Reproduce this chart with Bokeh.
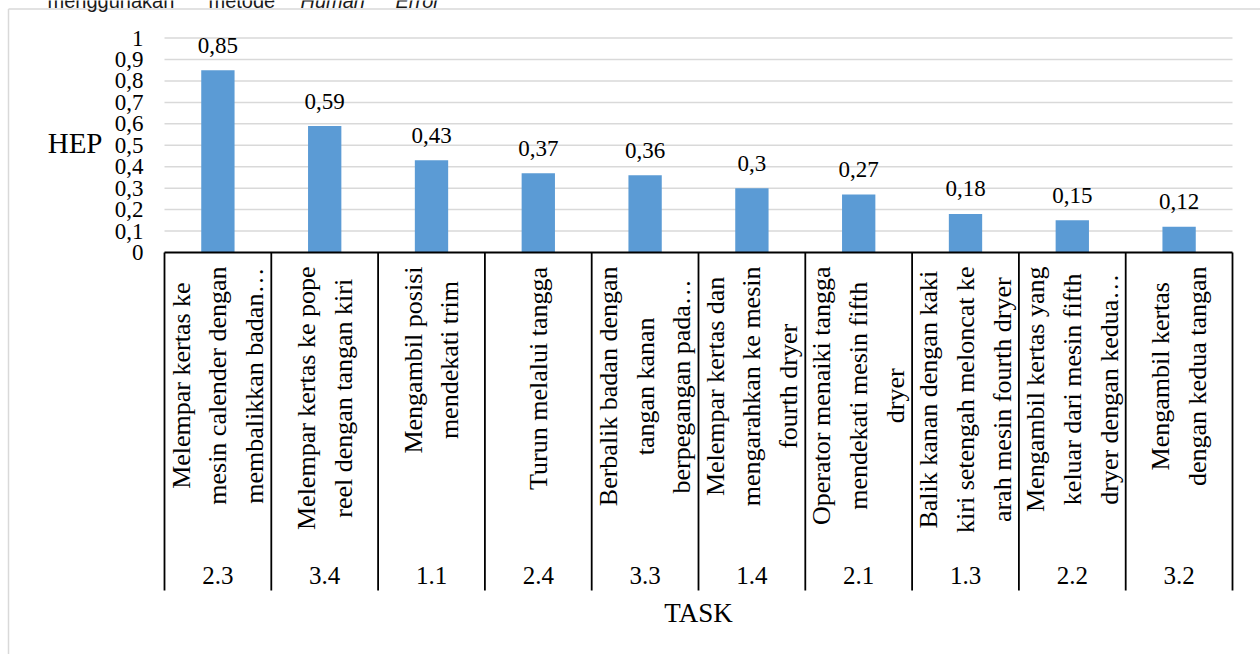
import math
from bokeh.plotting import figure
from bokeh.models import Range1d, ColumnDataSource
from bokeh.core.properties import value
from bokeh.embed import file_html
from bokeh.resources import INLINE

# ---------------- data ----------------
codes = ["2.3", "3.4", "1.1", "2.4", "3.3", "1.4", "2.1", "1.3", "2.2", "3.2"]
tasks = [
    "Melempar kertas ke\nmesin calender dengan\nmembalikkan badan…",
    "Melempar kertas ke pope\nreel dengan tangan kiri",
    "Mengambil posisi\nmendekati trim",
    "Turun melalui tangga",
    "Berbalik badan dengan\ntangan kanan\nberpegangan pada…",
    "Melempar kertas dan\nmengarahkan ke mesin\nfourth dryer",
    "Operator menaiki tangga\nmendekati mesin fifth\ndryer",
    "Balik kanan dengan kaki\nkiri setengah meloncat ke\narah mesin fourth dryer",
    "Mengambil kertas yang\nkeluar dari mesin fifth\ndryer dengan kedua…",
    "Mengambil kertas\ndengan kedua tangan",
]
hep = [0.85, 0.59, 0.43, 0.37, 0.36, 0.30, 0.27, 0.18, 0.15, 0.12]
hep_labels = ["0,85", "0,59", "0,43", "0,37", "0,36", "0,3", "0,27", "0,18", "0,15", "0,12"]
y_ticks = [0, 0.1, 0.2, 0.3, 0.4, 0.5, 0.6, 0.7, 0.8, 0.9, 1.0]
y_tick_labels = ["0", "0,1", "0,2", "0,3", "0,4", "0,5", "0,6", "0,7", "0,8", "0,9", "1"]
y_title = "HEP"
x_title = "TASK"
caption_words = ["menggunakan", "metode", "Human", "Error"]
caption_styles = ["normal", "normal", "italic", "italic"]

# ---------------- layout helpers ----------------
W, H = 1260, 654
X0, CW = 164.0, 106.8      # pixel of category 0 left edge, pixel width of category
Y0, YU = 252.0, 214.4      # pixel of value 0, pixels per unit value


def px_x(px):
    return (px - X0) / CW


def px_y(py):
    return (Y0 - py) / YU


# Times / Liberation Serif advance widths (1/1000 em) for estimating line length
_TW = dict(zip("abcdefghijklmnopqrstuvwxyz",
               [444, 500, 444, 500, 444, 333, 500, 500, 278, 278, 500, 278, 778,
                500, 500, 500, 500, 333, 389, 278, 500, 500, 722, 500, 500, 444]))
_TW.update(dict(zip("ABCDEFGHIJKLMNOPQRSTUVWXYZ",
                    [722, 667, 667, 722, 611, 556, 722, 722, 333, 389, 722, 611, 889,
                     722, 722, 556, 722, 667, 556, 611, 722, 722, 944, 722, 722, 611])))
_TW.update({" ": 250, ",": 250, ".": 250, "…": 1000})


def text_width(s, size):
    return sum(_TW.get(c, 500) for c in s) * size / 1000.0


LABEL_SIZE = 26
LABEL_TOP = 14  # pixels below the axis where the longest line ends

n = len(codes)
centers = [i + 0.5 for i in range(n)]
label_offsets = [LABEL_TOP + max(text_width(l, LABEL_SIZE) for l in t.split("\n")) / 2 for t in tasks]

p = figure(width=W, height=H, output_backend="svg", toolbar_location=None,
           x_range=Range1d(px_x(0), px_x(W)), y_range=Range1d(px_y(H), px_y(0)),
           x_axis_type=None, y_axis_type=None, min_border=0)
p.outline_line_color = None
p.background_fill_color = "white"
p.border_fill_color = "white"
p.xgrid.visible = False
p.ygrid.visible = False

SERIF = value("Liberation Serif")

# outer chart frame (light grey)
p.segment(x0=[px_x(8), px_x(8)], y0=[px_y(8.5), px_y(8.5)],
          x1=[px_x(8), px_x(W + 5)], y1=[px_y(H + 5), px_y(8.5)],
          line_color="#D9D9D9", line_width=1.5)

# caption cut at top (as in the source image)
cap_x = [px_x(47), px_x(208), px_x(300), px_x(395)]
p.text(x=cap_x, y=[px_y(0)] * 4, text=caption_words, text_font=value("Liberation Sans"),
       text_font_size="20px", text_color="#1a1a1a", text_baseline="alphabetic",
       text_align="left", text_font_style=caption_styles)

# grid lines
gt = y_ticks[1:]
p.segment(x0=[0] * len(gt), y0=gt, x1=[n] * len(gt), y1=gt,
          line_color="#D9D9D9", line_width=1.5)

# bars
src = ColumnDataSource(dict(x=centers, top=hep, base=[0] * n, lab=hep_labels,
                            code=codes, task=tasks, loff=label_offsets))
p.vbar(x="x", top="top", width=0.312, bottom=0, source=src,
       fill_color="#5B9BD5", line_color=None)

# data labels
p.text(x="x", y="top", text="lab", source=src, text_font=SERIF, text_font_size="23px",
       text_align="center", text_baseline="alphabetic", y_offset=-25, text_color="#000000")

# y tick labels
p.text(x=[0] * len(y_ticks), y=y_ticks, text=y_tick_labels, text_font=SERIF,
       text_font_size="23px", text_align="right", text_baseline="middle",
       x_offset=-21, y_offset=0, text_color="#000000")

# y title
p.text(x=[0], y=[0.5], text=[y_title], text_font=SERIF, text_font_size="29px",
       text_align="right", text_baseline="middle", x_offset=-62, y_offset=-2, text_color="#000000")

# axis line and category dividers
p.segment(x0=[0], y0=[0], x1=[n], y1=[0], line_color="#000000", line_width=1.8)
p.segment(x0=list(range(n + 1)), y0=[0] * (n + 1), x1=list(range(n + 1)),
          y1=[px_y(590)] * (n + 1), line_color="#000000", line_width=1.8)

# rotated task labels (lines centred on each other)
p.text(x="x", y="base", text="task", source=src, text_font=SERIF,
       text_font_size=f"{LABEL_SIZE}px", text_align="center", text_baseline="middle",
       angle=math.pi / 2, y_offset="loff", text_line_height=1.27, text_color="#000000")

# codes
p.text(x="x", y="base", text="code", source=src, text_font=SERIF, text_font_size="25px",
       text_align="center", text_baseline="middle", y_offset=323, text_color="#000000")

# x title
p.text(x=[n / 2], y=[0], text=[x_title], text_font=SERIF, text_font_size="27px",
       text_align="center", text_baseline="middle", y_offset=360, text_color="#000000")

open("out.html", "w").write(file_html(p, INLINE))
